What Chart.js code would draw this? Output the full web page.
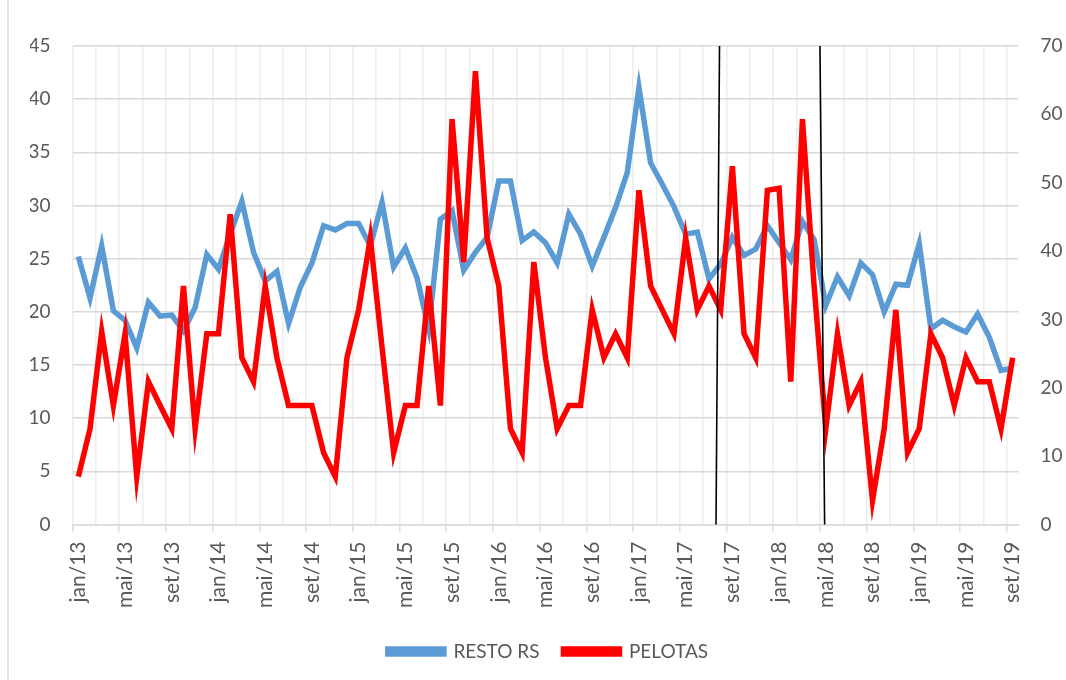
<!DOCTYPE html>
<html>
<head>
<meta charset="utf-8">
<script src="https://cdn.jsdelivr.net/npm/chart.js@4.4.1/dist/chart.umd.min.js"></script>
<style>
  html, body { margin: 0; padding: 0; background: #fff; }
  #wrap { position: relative; width: 1066px; height: 680px; }
</style>
</head>
<body>
<div id="wrap"><canvas id="grafico"></canvas></div>
<script>
// meses e anos do eixo x (jan/13 a set/19)
const meses = ['jan', 'fev', 'mar', 'abr', 'mai', 'jun', 'jul', 'ago', 'set', 'out', 'nov', 'dez'];
const anos = ['13', '14', '15', '16', '17', '18', '19'];

// série azul - eixo da esquerda
const restoRS = [
    25.2, 21.3, 26.2, 20.1, 19.2, 16.6, 20.9, 19.6, 19.7, 18.2, 20.4, 25.4,
    24.0, 27.3, 30.4, 25.6, 22.9, 23.8, 18.9, 22.3, 24.6, 28.1, 27.7, 28.3,
    28.3, 26.2, 30.3, 24.2, 26.0, 23.2, 18.4, 28.7, 29.5, 23.9, 25.6, 27.0,
    32.3, 32.3, 26.7, 27.5, 26.5, 24.6, 29.2, 27.3, 24.3, 27.0, 29.8, 33.1,
    41.1, 34.0, 32.0, 29.9, 27.3, 27.5, 23.1, 24.5, 27.0, 25.3, 25.9, 28.1,
    26.5, 24.9, 28.5, 26.8, 20.6, 23.3, 21.5, 24.6, 23.5, 20.0, 22.6, 22.5,
    26.4, 18.4, 19.2, 18.6, 18.1, 19.8, 17.6, 14.5, 14.7
];

// série vermelha - eixo da direita
const pelotas = [
    7.0, 14.0, 28.2, 17.4, 27.9, 7.0, 20.9, 17.4, 14.0, 34.9, 14.0, 27.9,
    27.9, 45.4, 24.4, 20.9, 34.9, 24.4, 17.4, 17.4, 17.4, 10.5, 7.0, 24.4,
    31.4, 41.9, 26.0, 10.5, 17.4, 17.4, 34.9, 17.4, 59.3, 38.4, 66.3, 41.9,
    34.9, 14.0, 10.5, 38.4, 24.4, 14.0, 17.4, 17.4, 31.4, 24.4, 27.9, 24.4,
    48.9, 34.9, 31.4, 27.9, 41.9, 31.4, 34.9, 31.4, 52.4, 27.9, 24.4, 48.9,
    49.2, 20.9, 59.3, 34.9, 14.0, 27.9, 17.4, 20.9, 3.5, 14.0, 31.4, 10.5,
    14.0, 27.9, 24.4, 17.4, 24.4, 20.9, 20.9, 14.0, 24.4
];

// linhas verticais pretas (posição em meses a partir de jan/13)
const marcoTopo = [54.9, 63.5];
const marcoBase = [54.6, 63.9];

const rotulos = [];
anos.forEach(function(a) {
    meses.forEach(function(m) {
        if (rotulos.length < restoRS.length) rotulos.push(m + '/' + a);
    });
});

const corTexto = '#595959';
const corGrade = '#d9d9d9';

const linhasMarco = {
    id: 'linhasMarco',
    afterDatasetsDraw(chart) {
        const ctx = chart.ctx;
        const x = chart.scales.x;
        const area = chart.chartArea;
        ctx.save();
        ctx.strokeStyle = '#000';
        ctx.lineWidth = 1.6;
        for (let i = 0; i < marcoTopo.length; i++) {
            ctx.beginPath();
            ctx.moveTo(x.getPixelForValue(marcoTopo[i]), area.top);
            ctx.lineTo(x.getPixelForValue(marcoBase[i]), area.bottom);
            ctx.stroke();
        }
        ctx.restore();
    }
};

const bordaEsquerda = {
    id: 'bordaEsquerda',
    beforeDraw(chart) {
        const ctx = chart.ctx;
        ctx.save();
        ctx.strokeStyle = corGrade;
        ctx.lineWidth = 1.5;
        ctx.beginPath();
        ctx.moveTo(8, 0);
        ctx.lineTo(8, chart.height);
        ctx.stroke();
        ctx.restore();
    }
};

Chart.defaults.font.family = 'Lato, "Open Sans", sans-serif';
Chart.defaults.color = corTexto;

const ctx = document.getElementById('grafico').getContext('2d');
const grafico = new Chart(ctx, {
    type: 'line',
    data: {
        labels: rotulos,
        datasets: [
            {
                label: 'RESTO RS',
                data: restoRS,
                yAxisID: 'y',
                borderColor: '#5b9bd5',
                backgroundColor: '#5b9bd5',
                borderWidth: 5.5,
                pointRadius: 0,
                tension: 0,
                order: 2
            },
            {
                label: 'PELOTAS',
                data: pelotas,
                yAxisID: 'y1',
                borderColor: '#ff0000',
                backgroundColor: '#ff0000',
                borderWidth: 5.5,
                pointRadius: 0,
                tension: 0,
                order: 1
            }
        ]
    },
    options: {
        responsive: true,
        maintainAspectRatio: false,
        animation: false,
        layout: {
            padding: { top: 46, bottom: 9, left: 30, right: 0 }
        },
        plugins: {
            legend: {
                position: 'bottom',
                labels: {
                    boxWidth: 56,
                    boxHeight: 5,
                    padding: 24,
                    font: { size: 19 },
                    color: corTexto,
                    sort: (a, b) => a.datasetIndex - b.datasetIndex
                }
            },
            tooltip: { enabled: false }
        },
        scales: {
            x: {
                offset: true,
                grid: {
                    offset: true,
                    lineWidth: 1.5,
                    color: (c) => (c.index !== undefined && c.index % 2 === 0) ? '#ededed' : 'rgba(0,0,0,0)',
                    tickColor: (c) => (c.index !== undefined && c.index % 4 === 0) ? corGrade : 'rgba(0,0,0,0)',
                    tickLength: 7
                },
                border: { display: true, color: corGrade, width: 1.5 },
                ticks: {
                    autoSkip: false,
                    maxRotation: 90,
                    minRotation: 90,
                    padding: 10,
                    font: { size: 21 },
                    callback: function(v, i) { return i % 4 === 0 ? rotulos[i] : ''; }
                },
                afterFit: function(s) { s.height = 93.5; }
            },
            y: {
                position: 'left',
                min: 0,
                max: 45,
                ticks: { stepSize: 5, padding: 22, font: { size: 19 } },
                grid: { color: corGrade, lineWidth: 1.5, drawTicks: false },
                border: { display: false },
                afterFit: function(s) { s.width = 42.5; }
            },
            y1: {
                position: 'right',
                min: 0,
                max: 70,
                ticks: { stepSize: 10, padding: 22, font: { size: 19 } },
                grid: { drawOnChartArea: false, drawTicks: false },
                border: { display: false },
                afterFit: function(s) { s.width = 47.5; }
            }
        }
    },
    plugins: [linhasMarco, bordaEsquerda]
});
</script>
</body>
</html>
